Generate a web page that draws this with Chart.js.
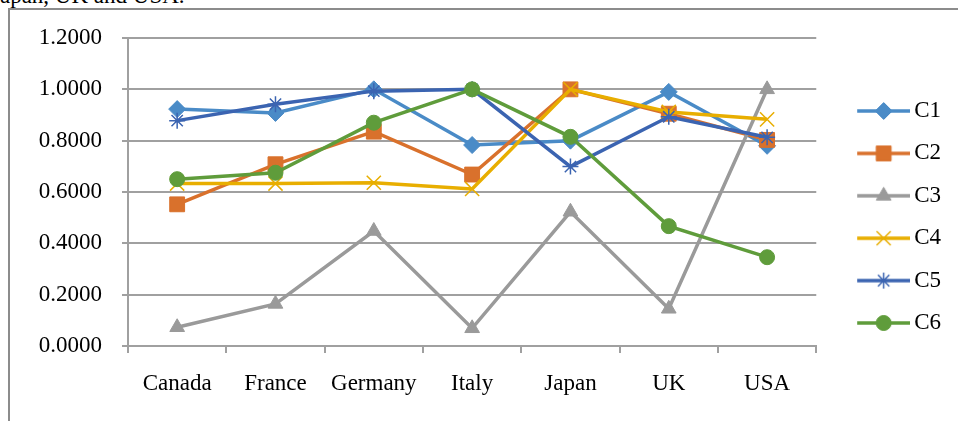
<!DOCTYPE html>
<html>
<head>
<meta charset="utf-8">
<script src="https://cdn.jsdelivr.net/npm/chart.js@4/dist/chart.umd.min.js"></script>
<style>
  html, body { margin: 0; padding: 0; background: #fff; overflow: hidden; }
  #wrap { position: relative; width: 958px; height: 421px; overflow: hidden; }
  #caption { position: absolute; left: -9px; top: -16px; font: 23px/23px "Liberation Serif", "Times New Roman", serif; color: #000; white-space: nowrap; }
  #frame { position: absolute; left: 8px; top: 8px; width: 1000px; height: 1000px; border-left: 2px solid #8c8c8c; border-top: 2px solid #8c8c8c; }
  #chart { position: absolute; left: 0; top: 0; }
</style>
</head>
<body>
<div id="wrap">
  <div id="caption">Japan, UK and USA.</div>
  <div id="frame"></div>
  <canvas id="chart" width="958" height="421"></canvas>
</div>
<script>
// Countries along the category axis
const categories = ['Canada', 'France', 'Germany', 'Italy', 'Japan', 'UK', 'USA'];

// Series values per country
const c1 = [0.923, 0.908, 1.000, 0.783, 0.800, 0.990, 0.780];
const c2 = [0.552, 0.708, 0.835, 0.668, 1.000, 0.905, 0.803];
const c3 = [0.073, 0.164, 0.448, 0.069, 0.523, 0.145, 1.000];
const c4 = [0.633, 0.633, 0.636, 0.612, 1.000, 0.912, 0.883];
const c5 = [0.878, 0.942, 0.993, 1.000, 0.699, 0.893, 0.813];
const c6 = [0.650, 0.675, 0.870, 1.000, 0.815, 0.467, 0.346];

// Value axis ticks
const yTickValues = [0, 0.2, 0.4, 0.6, 0.8, 1.0, 1.2];

const FONT = { family: '"Liberation Serif", "Times New Roman", serif', size: 23 };
const GRID = '#a0a0a0';
const LINE_W = 3.5;

const series = [
  { label: 'C1', data: c1, color: '#4a8bc7', style: 'rectRot', radius: 8.5 },
  { label: 'C2', data: c2, color: '#d9712c', style: 'rect', radius: 10.5 },
  { label: 'C3', data: c3, color: '#9a9a9a', style: 'triangle', radius: 8.5 },
  { label: 'C4', data: c4, color: '#e8ae00', style: 'crossRot', radius: 10 },
  { label: 'C5', data: c5, color: '#3b64b1', style: 'star', radius: 8 },
  { label: 'C6', data: c6, color: '#5f9c3b', style: 'circle', radius: 7.5 }
];

const isLineMarker = (style) => style === 'crossRot' || style === 'star';

// Legend icon: a short line with the series marker in the middle
function legendIcon(s) {
  const cv = document.createElement('canvas');
  cv.width = 82; cv.height = 24;
  const ctx = cv.getContext('2d');
  ctx.strokeStyle = s.color;
  ctx.fillStyle = s.color;
  ctx.lineWidth = LINE_W;
  ctx.beginPath();
  ctx.moveTo(29, 12);
  ctx.lineTo(82, 12);
  ctx.stroke();
  ctx.lineWidth = isLineMarker(s.style) ? 1.5 : 1;
  Chart.helpers.drawPoint(ctx, { pointStyle: s.style, rotation: 0, radius: s.radius, borderWidth: ctx.lineWidth }, 55.5, 12);
  return cv;
}

const datasets = series.map((s, i) => ({
  label: s.label,
  data: s.data,
  borderColor: s.color,
  backgroundColor: s.color,
  borderWidth: LINE_W,
  tension: 0,
  pointStyle: s.style,
  pointRadius: s.radius,
  pointBackgroundColor: s.color,
  pointBorderColor: s.color,
  pointBorderWidth: isLineMarker(s.style) ? 1.5 : 1,
  order: series.length - i
}));

const icons = series.map(legendIcon);

new Chart(document.getElementById('chart'), {
  type: 'line',
  data: { labels: categories, datasets },
  options: {
    responsive: false,
    animation: false,
    events: [],
    layout: { padding: { top: 38, left: 0, right: 7, bottom: 25 } },
    plugins: {
      tooltip: { enabled: false },
      legend: {
        position: 'right',
        align: 'center',
        fullSize: true,
        labels: {
          usePointStyle: true,
          pointStyleWidth: 67,
          boxHeight: 23,
          padding: 19.4,
          font: FONT,
          color: '#000',
          generateLabels: (chart) => chart.data.datasets.map((ds, i) => ({
            text: ds.label,
            pointStyle: icons[i],
            fillStyle: ds.borderColor,
            strokeStyle: ds.borderColor,
            lineWidth: 0,
            fontColor: '#000',
            hidden: false,
            datasetIndex: i
          }))
        }
      }
    },
    scales: {
      x: {
        offset: true,
        grid: { offset: true, drawOnChartArea: false, drawTicks: true, tickLength: 7, color: GRID, lineWidth: 2 },
        border: { color: GRID, width: 2 },
        ticks: { font: FONT, color: '#000', padding: 17, maxRotation: 0, autoSkip: false },
        afterFit: (scale) => { scale.height = 50; }
      },
      y: {
        min: 0,
        max: 1.2,
        afterBuildTicks: (scale) => { scale.ticks = yTickValues.map(v => ({ value: v })); },
        ticks: { font: FONT, color: '#000', padding: 20, callback: (v) => Number(v).toFixed(4) },
        grid: { tickLength: 6, color: GRID, lineWidth: 2 },
        border: { color: GRID, width: 2 },
        afterFit: (scale) => { scale.width = 128; }
      }
    }
  }
});
</script>
</body>
</html>
